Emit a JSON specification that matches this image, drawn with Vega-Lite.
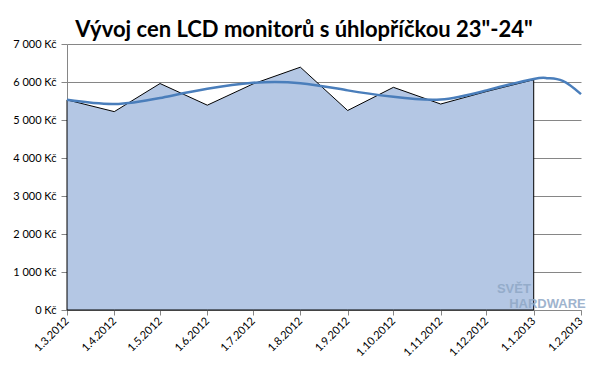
{
  "$schema": "https://vega.github.io/schema/vega-lite/v6.json",
  "autosize": {"type": "none"},
  "width": 514,
  "height": 266,
  "padding": {"left": 67, "top": 44, "right": 27, "bottom": 77},
  "background": "white",
  "title": {
    "text": "Vývoj cen LCD monitorů s úhlopříčkou 23\"-24\"",
    "font": "Lato",
    "fontSize": 22,
    "fontWeight": "bold",
    "color": "black",
    "anchor": "middle",
    "frame": "group",
    "dx": -20,
    "dy": 31,
    "offset": 10,
    "baseline": "alphabetic"
  },
  "config": {
    "view": {"stroke": null},
    "axis": {"labelFont": "Lato", "labelFontSize": 11, "labelColor": "black"}
  },
  "datasets": {
    "prices": [
      {"date": "2012-03-01", "price": 5530},
      {"date": "2012-04-01", "price": 5220},
      {"date": "2012-05-01", "price": 5960},
      {"date": "2012-06-01", "price": 5390},
      {"date": "2012-07-01", "price": 5950},
      {"date": "2012-08-01", "price": 6390},
      {"date": "2012-09-01", "price": 5250},
      {"date": "2012-10-01", "price": 5860},
      {"date": "2012-11-01", "price": 5420},
      {"date": "2012-12-01", "price": 5750},
      {"date": "2013-01-01", "price": 6060}
    ],
    "trend": [
      {"date": "2012-03-01", "price": 5530},
      {"date": "2012-04-01", "price": 5420},
      {"date": "2012-05-01", "price": 5580},
      {"date": "2012-06-01", "price": 5820},
      {"date": "2012-07-01", "price": 5980},
      {"date": "2012-08-01", "price": 5970},
      {"date": "2012-09-01", "price": 5780},
      {"date": "2012-10-01", "price": 5610},
      {"date": "2012-11-01", "price": 5540},
      {"date": "2012-12-01", "price": 5780},
      {"date": "2013-01-01", "price": 6080},
      {"date": "2013-01-10", "price": 6100},
      {"date": "2013-01-20", "price": 6030},
      {"date": "2013-02-01", "price": 5680}
    ],
    "logo": [
      {"date": "2012-12-19", "price": 560, "label": "SVĚT"},
      {"date": "2013-01-10", "price": 150, "label": "HARDWARE"}
    ]
  },
  "encoding": {
    "x": {
      "field": "date", "type": "temporal",
      "scale": {"type": "utc", "domain": [{"year": 2012, "month": 3, "date": 1, "utc": true}, {"year": 2013, "month": 2, "date": 1, "utc": true}]},
      "axis": {
        "title": null,
        "format": "%-d.%-m.%Y",
        "labelAngle": -45,
        "labelAlign": "right",
        "labelBaseline": "middle",
        "labelPadding": 4,
        "grid": false,
        "domainColor": "#868686",
        "tickColor": "#868686",
        "tickSize": 5,
        "labelOverlap": false,
        "values": [
          {"year": 2012, "month": 3, "date": 1, "utc": true},
          {"year": 2012, "month": 4, "date": 1, "utc": true},
          {"year": 2012, "month": 5, "date": 1, "utc": true},
          {"year": 2012, "month": 6, "date": 1, "utc": true},
          {"year": 2012, "month": 7, "date": 1, "utc": true},
          {"year": 2012, "month": 8, "date": 1, "utc": true},
          {"year": 2012, "month": 9, "date": 1, "utc": true},
          {"year": 2012, "month": 10, "date": 1, "utc": true},
          {"year": 2012, "month": 11, "date": 1, "utc": true},
          {"year": 2012, "month": 12, "date": 1, "utc": true},
          {"year": 2013, "month": 1, "date": 1, "utc": true},
          {"year": 2013, "month": 2, "date": 1, "utc": true}
        ]
      }
    },
    "y": {
      "field": "price", "type": "quantitative",
      "scale": {"domain": [0, 7000], "nice": false},
      "axis": {
        "title": null,
        "values": [0, 1000, 2000, 3000, 4000, 5000, 6000, 7000],
        "labelExpr": "replace(format(datum.value, ',d'), ',', ' ') + ' Kč'",
        "labelOverlap": false,
        "grid": true,
        "gridColor": "#868686",
        "gridOpacity": 1,
        "domainColor": "#868686",
        "tickColor": "#868686",
        "tickSize": 6,
        "labelPadding": 5
      }
    }
  },
  "layer": [
    {
      "data": {"name": "prices"},
      "mark": {"type": "area", "color": "#B4C7E4", "stroke": "black", "strokeWidth": 1, "opacity": 1}
    },
    {
      "data": {"name": "trend"},
      "mark": {"type": "line", "color": "#4A7EBB", "strokeWidth": 2.5, "interpolate": "natural"}
    },
    {
      "data": {"name": "logo"},
      "mark": {"type": "text", "font": "Liberation Sans", "fontSize": 13, "fontWeight": "bold", "color": "#8FA8C6", "opacity": 0.85},
      "encoding": {
        "text": {"field": "label"}
      }
    }
  ]
}
